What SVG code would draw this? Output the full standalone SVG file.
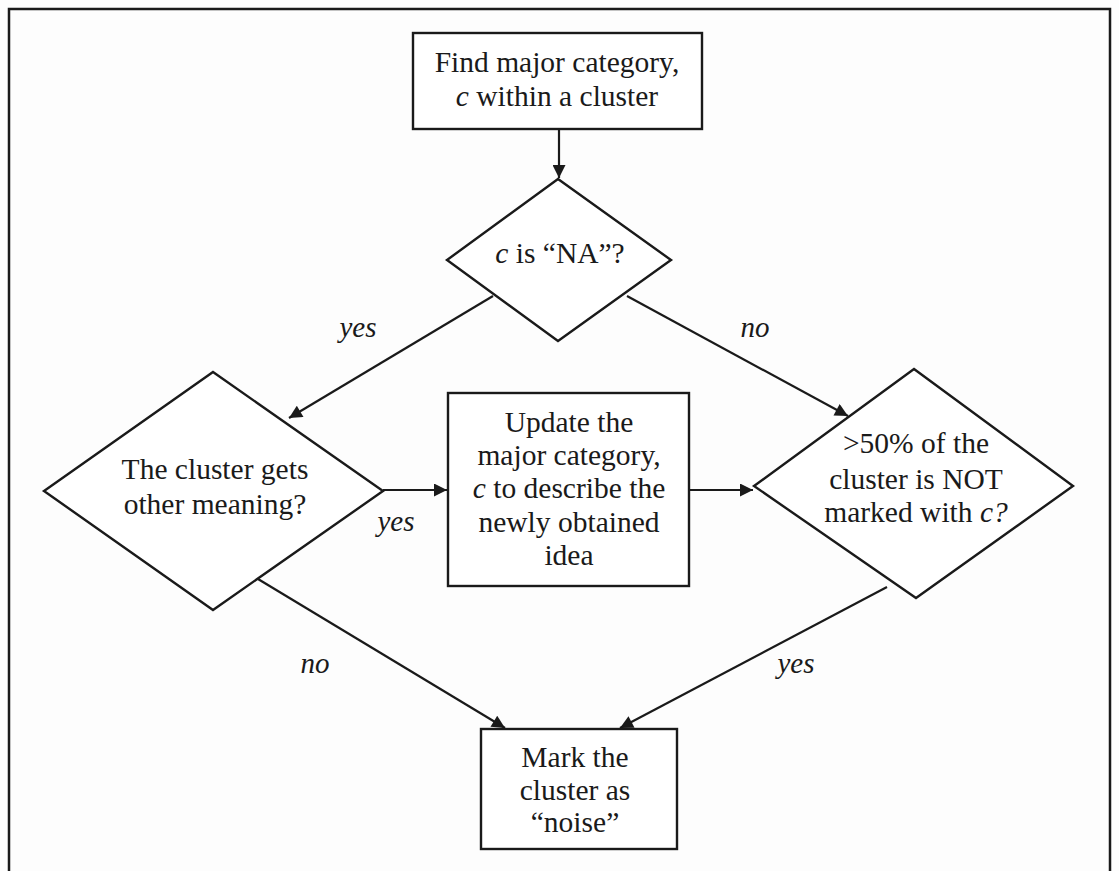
<svg xmlns="http://www.w3.org/2000/svg" width="1119" height="871" viewBox="0 0 1119 871">
<style>
.shape{fill:#fff;stroke:#1a1a1a;stroke-width:2.4}
.t{font-family:"Liberation Serif","Times New Roman",serif;font-size:29.5px;fill:#1a1a1a;text-anchor:middle}
.lbl{font-family:"Liberation Serif","Times New Roman",serif;font-size:29px;font-style:italic;fill:#1a1a1a;text-anchor:middle}
.c{stroke:#1a1a1a;stroke-width:2.2;fill:none;marker-end:url(#ah)}
</style>
<defs>
<marker id="ah" viewBox="0 0 10 10" refX="10" refY="5" markerWidth="15" markerHeight="13" markerUnits="userSpaceOnUse" orient="auto">
<path d="M0,0 L10,5 L0,10 Z" fill="#1a1a1a"/>
</marker>
</defs>
<rect x="0" y="0" width="1119" height="871" fill="#fdfdfd"/>
<rect x="9" y="9" width="1101" height="880" fill="none" stroke="#1a1a1a" stroke-width="2.5"/>
<g id="connectors">
<line class="c" x1="559" y1="129" x2="559" y2="178"/>
<line class="c" x1="493" y1="296" x2="289" y2="418"/>
<line class="c" x1="627" y1="296" x2="848" y2="416"/>
<line class="c" x1="383" y1="490" x2="447" y2="490"/>
<line class="c" x1="689" y1="490" x2="753" y2="490"/>
<line class="c" x1="258" y1="579" x2="505" y2="728"/>
<line class="c" x1="887" y1="587" x2="620" y2="728"/>
<text class="lbl" x="358" y="337">yes</text>
<text class="lbl" x="755" y="337">no</text>
<text class="lbl" x="396" y="531">yes</text>
<text class="lbl" x="315" y="673">no</text>
<text class="lbl" x="796" y="673">yes</text>
</g>
<g id="find">
<rect class="shape" x="413" y="33" width="289" height="96"/>
<text class="t" x="557" y="72">Find major category,</text>
<text class="t" x="557" y="106"><tspan font-style="italic">c</tspan> within a cluster</text>
</g>
<g id="isNA">
<polygon class="shape" points="558,179 671,260 558,341 447,260"/>
<text class="t" x="560" y="263"><tspan font-style="italic">c</tspan> is “NA”?</text>
</g>
<g id="otherMeaning">
<polygon class="shape" points="213,372 383,491 213,610 44,491"/>
<text class="t" x="215" y="479">The cluster gets</text>
<text class="t" x="215" y="514">other meaning?</text>
</g>
<g id="update">
<rect class="shape" x="448" y="393" width="241" height="193"/>
<text class="t" x="569" y="432">Update the</text>
<text class="t" x="569" y="465">major category,</text>
<text class="t" x="569" y="498"><tspan font-style="italic">c</tspan> to describe the</text>
<text class="t" x="569" y="532">newly obtained</text>
<text class="t" x="569" y="565">idea</text>
</g>
<g id="notMarked">
<polygon class="shape" points="914,369 1073,486 916,598 754,486"/>
<text class="t" x="916" y="453">&gt;50% of the</text>
<text class="t" x="916" y="489">cluster is NOT</text>
<text class="t" x="916" y="522">marked with <tspan font-style="italic">c?</tspan></text>
</g>
<g id="noise">
<rect class="shape" x="481" y="729" width="196" height="120"/>
<text class="t" x="575" y="767">Mark the</text>
<text class="t" x="575" y="800">cluster as</text>
<text class="t" x="575" y="832">“noise”</text>
</g>
</svg>
